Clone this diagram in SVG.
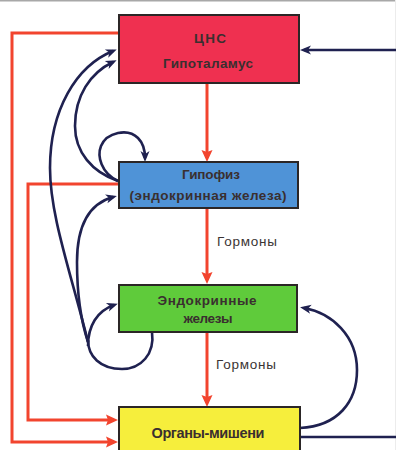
<svg xmlns="http://www.w3.org/2000/svg" width="396" height="450" viewBox="0 0 396 450">
<style>
.box{stroke:#2b2626;stroke-width:2}
.lbl{font-family:"Liberation Sans",Arial,sans-serif;font-weight:bold;font-size:13.5px;fill:#3a2f2f;text-anchor:middle;dominant-baseline:central}
.hl{font-family:"Liberation Sans",Arial,sans-serif;font-size:13.5px;fill:#3a3434;dominant-baseline:central}
.red{fill:none;stroke:#f2442e;stroke-width:3}
.navy{fill:none;stroke:#1f2150;stroke-width:2.6}
</style>
<defs>
<marker id="ar" markerUnits="userSpaceOnUse" markerWidth="20" markerHeight="20" refX="8" refY="0" orient="auto" overflow="visible" viewBox="-2 -10 20 20">
<path d="M0,-5.5 L12,0 L0,5.5 L2,0 Z" fill="#f2442e"/>
</marker>
<marker id="an" markerUnits="userSpaceOnUse" markerWidth="20" markerHeight="20" refX="7" refY="0" orient="auto" overflow="visible" viewBox="-2 -10 20 20">
<path d="M0,-4.5 L11,0 L0,4.5 L3,0 Z" fill="#1f2150"/>
</marker>
</defs>
<rect width="396" height="450" fill="#ffffff"/>
<line x1="0" y1="0.8" x2="396" y2="0.8" stroke="#a8a8a8" stroke-width="1.6"/>
<line x1="395.5" y1="0" x2="395.5" y2="450" stroke="#ececec" stroke-width="1"/>
<g id="connectors">
<path class="red" d="M207,83 V158" marker-end="url(#ar)"/>
<path class="red" d="M207,208 V280" marker-end="url(#ar)"/>
<path class="red" d="M207,332 V403" marker-end="url(#ar)"/>
<path class="red" d="M119,33 H12 V442 H114" marker-end="url(#ar)"/>
<path class="red" d="M119,184 H28 V420 H114" marker-end="url(#ar)"/>
<path class="navy" d="M396,50 H304" marker-end="url(#an)"/>
<path class="navy" d="M300,437 H396"/>
<path class="navy" d="M300,428 C338,426 357,402 357,370 C357,336 332,313 304,308" marker-end="url(#an)"/>
<path class="navy" d="M88,342 C70,270 50,215 50,168 C50,110 76,66 113,51" marker-end="url(#an)"/>
<path class="navy" d="M88,342 C80,318 77,292 77,262 C77,228 88,204 113,197" marker-end="url(#an)"/>
<path class="navy" d="M118,181 C92,172 75,152 75,126 C75,96 90,73 113,62" marker-end="url(#an)"/>
<path class="navy" d="M118,181 C101,173 97,156 101,146 C107,132 128,128 138,138 C143,143 145,150 145,158" marker-end="url(#an)"/>
<path class="navy" d="M152,332 C155,354 141,369 122,369 C100,369 88,356 88,340"/>
<path class="navy" d="M88,346 C88,326 97,311 114,305" marker-end="url(#an)"/>
</g>
<g id="cns">
<rect class="box" x="119" y="15" width="180" height="68" fill="#ef3050"/>
<text class="lbl" x="210" y="38" textLength="32">ЦНС</text>
<text class="lbl" x="208" y="63" textLength="90">Гипоталамус</text>
</g>
<g id="pituitary">
<rect class="box" x="119" y="162" width="179" height="46" fill="#4f93d7"/>
<text class="lbl" x="211" y="174" textLength="58">Гипофиз</text>
<text class="lbl" x="208" y="195" textLength="157">(эндокринная железа)</text>
</g>
<g id="endocrine">
<rect class="box" x="119" y="285" width="178" height="47" fill="#5fcb3b"/>
<text class="lbl" x="207" y="300" textLength="99">Эндокринные</text>
<text class="lbl" x="208" y="318" textLength="49">железы</text>
</g>
<g id="organs">
<rect class="box" x="119" y="407" width="181" height="50" fill="#f6ee3c"/>
<text class="lbl" x="208" y="433" textLength="113" style="font-size:14.5px">Органы-мишени</text>
</g>
<g id="labels">
<text class="hl" x="217" y="241" textLength="60">Гормоны</text>
<text class="hl" x="216" y="364" textLength="60">Гормоны</text>
</g>
</svg>
